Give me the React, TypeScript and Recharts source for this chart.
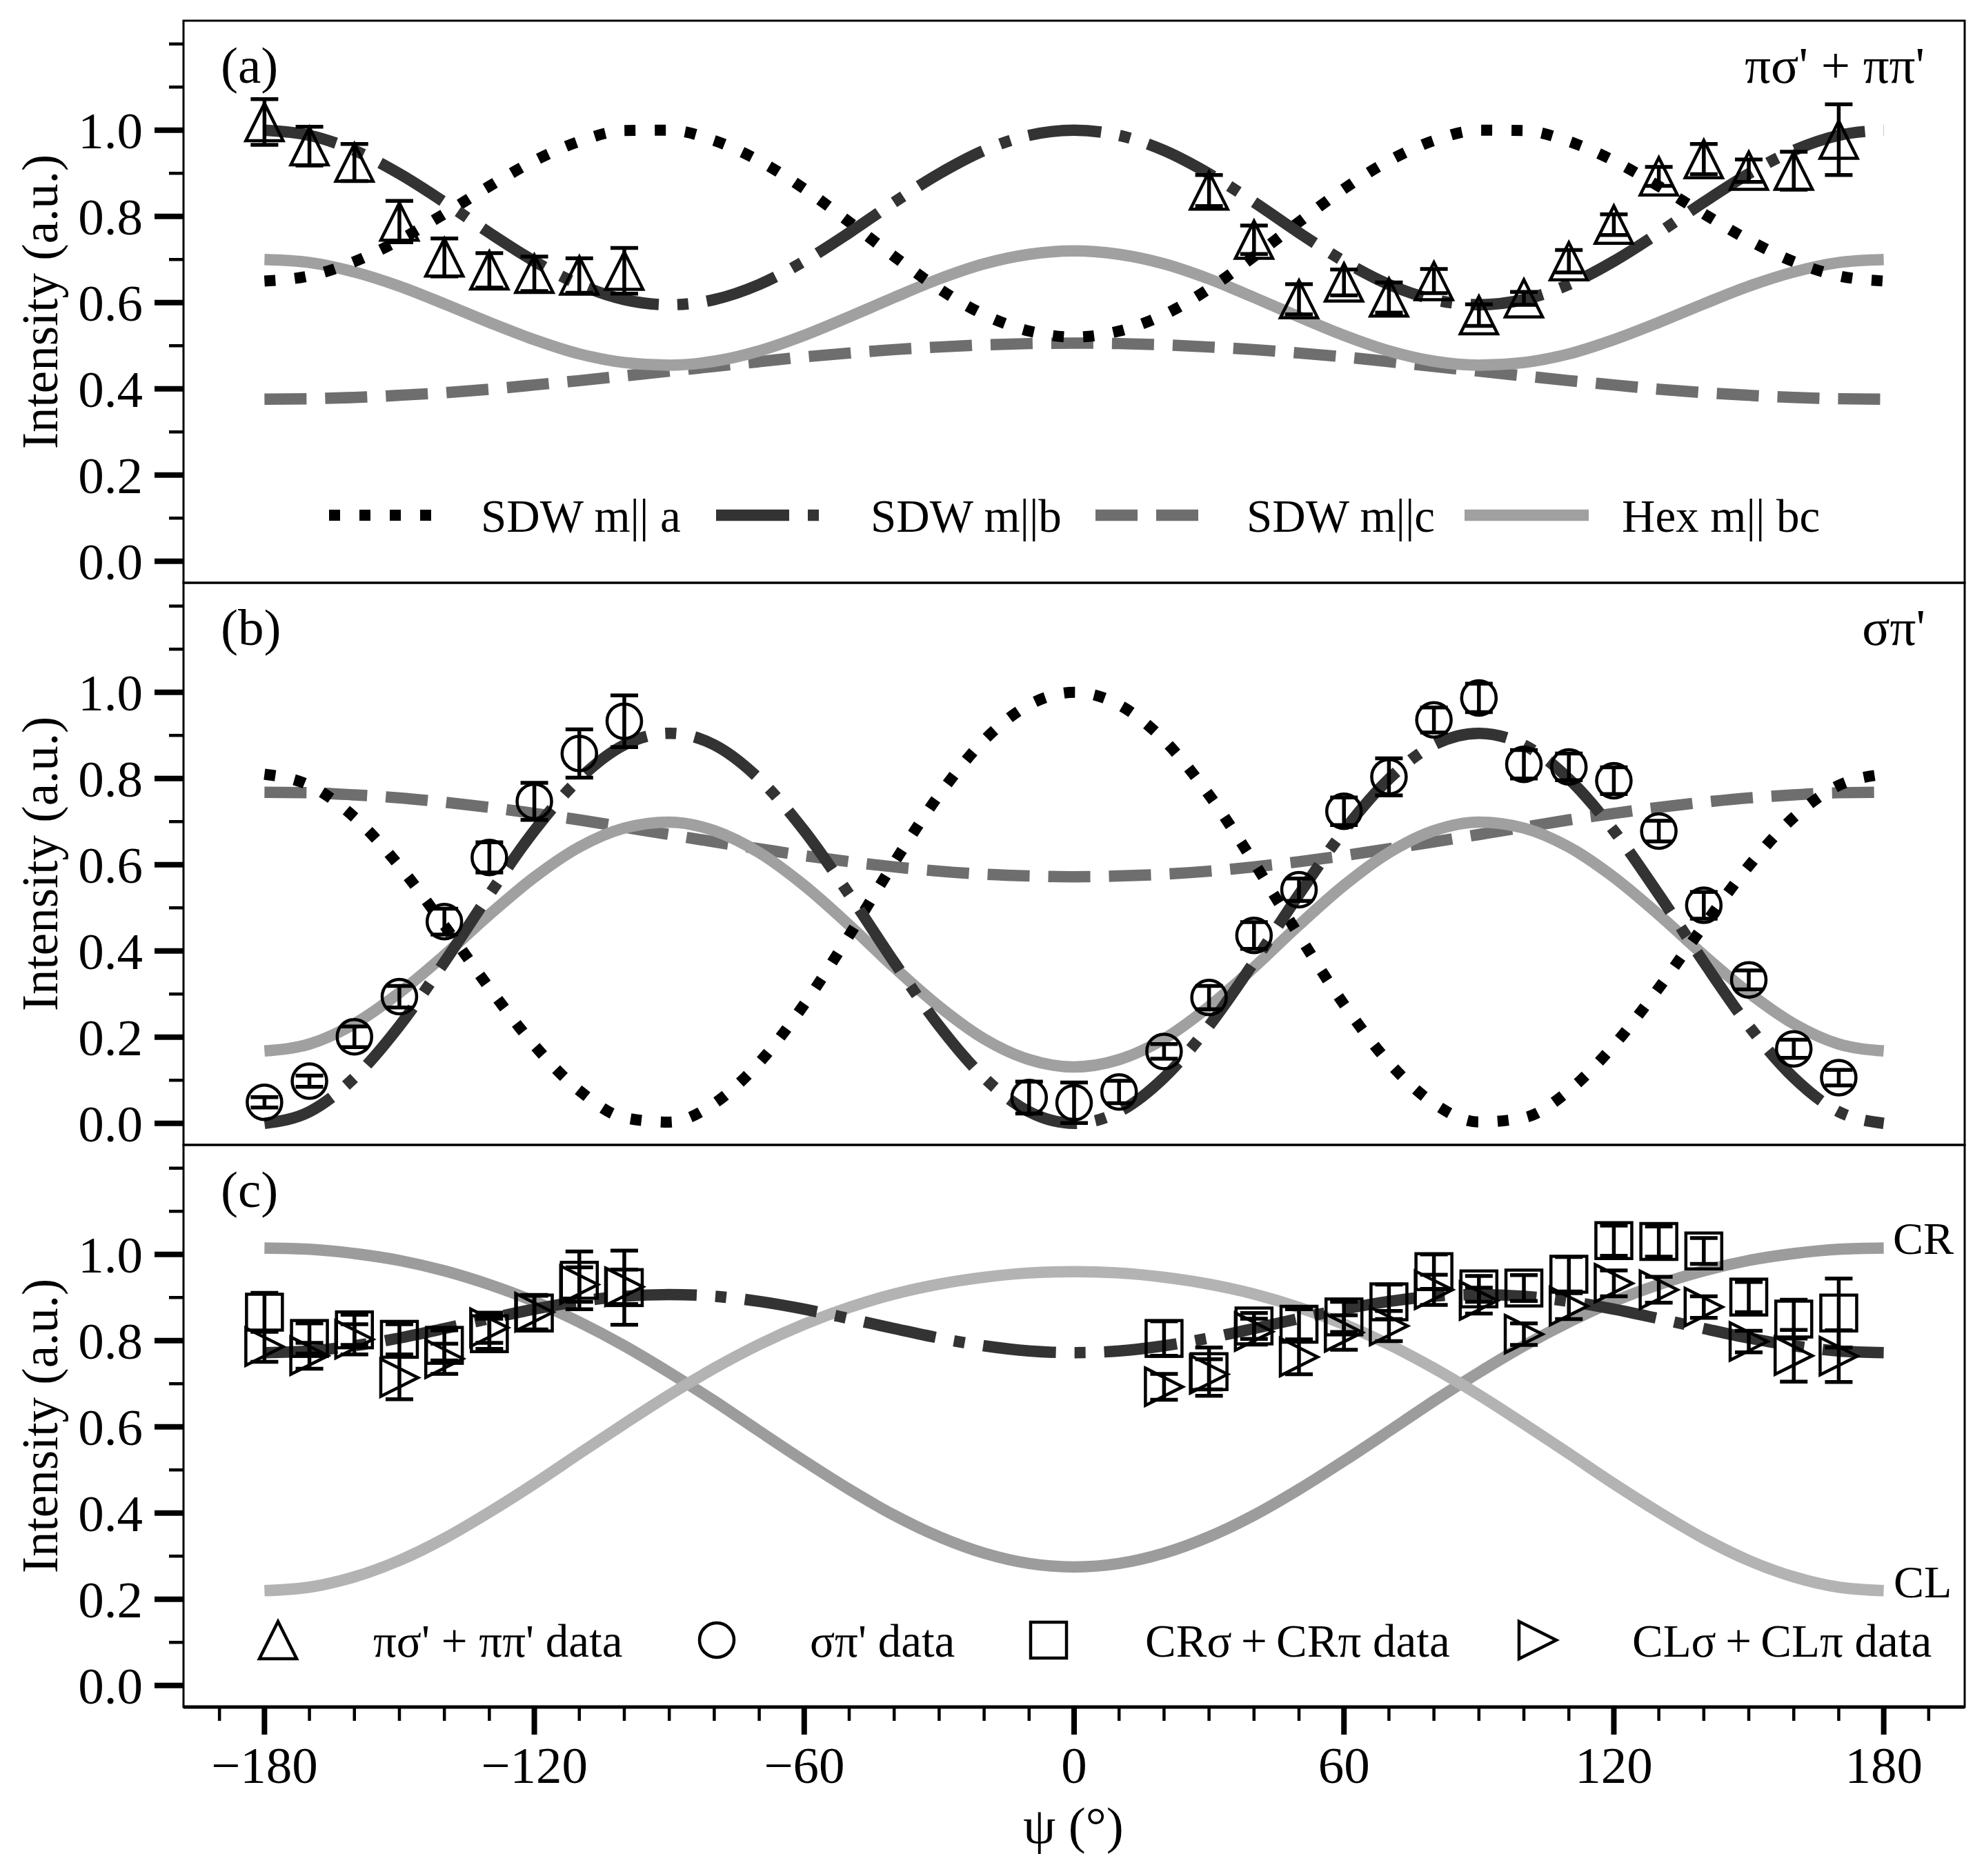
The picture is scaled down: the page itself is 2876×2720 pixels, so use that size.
import React from 'react';
import { ComposedChart, Line, Scatter, XAxis, YAxis, ErrorBar, ReferenceArea } from 'recharts';

const FONT = '"Liberation Serif", "Times New Roman", Times, serif';

// ---------- data ----------
const PSI = [-180,-170,-160,-150,-140,-130,-120,-110,-100,-90,-80,-70,-60,-50,-40,-30,-20,-10,0,10,20,30,40,50,60,70,80,90,100,110,120,130,140,150,160,170,180];

// panel (a) model curves
const A_SDW_A = [0.650,0.662,0.695,0.745,0.806,0.870,0.929,0.974,0.999,1.000,0.976,0.929,0.864,0.787,0.707,0.632,0.572,0.534,0.520,0.534,0.572,0.632,0.707,0.787,0.864,0.929,0.976,1.000,0.999,0.974,0.929,0.870,0.806,0.745,0.695,0.662,0.650];
const A_SDW_B = [1.000,0.988,0.953,0.899,0.833,0.762,0.696,0.642,0.607,0.595,0.607,0.642,0.696,0.762,0.833,0.899,0.953,0.988,1.000,0.988,0.953,0.899,0.833,0.762,0.696,0.642,0.607,0.595,0.607,0.642,0.696,0.762,0.833,0.899,0.953,0.988,1.000];
const A_SDW_C = [0.376,0.377,0.380,0.385,0.391,0.399,0.409,0.419,0.430,0.441,0.452,0.463,0.474,0.483,0.491,0.497,0.502,0.505,0.506,0.505,0.502,0.497,0.491,0.483,0.474,0.463,0.452,0.441,0.430,0.419,0.409,0.399,0.391,0.385,0.380,0.377,0.376];
const A_HEX = [0.700,0.693,0.671,0.638,0.597,0.554,0.514,0.481,0.461,0.455,0.464,0.488,0.524,0.567,0.612,0.655,0.690,0.712,0.720,0.712,0.690,0.655,0.612,0.567,0.524,0.488,0.464,0.455,0.461,0.481,0.514,0.554,0.597,0.638,0.671,0.693,0.700];

// panel (b) model curves
const B_SDW_A = [0.810,0.784,0.710,0.597,0.459,0.314,0.181,0.076,0.013,0.003,0.046,0.141,0.276,0.436,0.605,0.762,0.889,0.971,1.000,0.971,0.889,0.762,0.605,0.436,0.276,0.141,0.046,0.003,0.013,0.076,0.181,0.314,0.459,0.597,0.710,0.784,0.810];
const B_SDW_B = [0.000,0.027,0.106,0.226,0.374,0.531,0.679,0.799,0.878,0.905,0.878,0.799,0.679,0.531,0.374,0.226,0.106,0.027,0.000,0.027,0.106,0.226,0.374,0.531,0.679,0.799,0.878,0.905,0.878,0.799,0.679,0.531,0.374,0.226,0.106,0.027,0.000];
const B_SDW_C = [0.768,0.767,0.762,0.755,0.745,0.733,0.719,0.704,0.687,0.670,0.653,0.637,0.621,0.607,0.595,0.585,0.578,0.574,0.572,0.574,0.578,0.585,0.595,0.607,0.621,0.637,0.653,0.670,0.687,0.704,0.719,0.733,0.745,0.755,0.762,0.767,0.768];
const B_HEX = [0.168,0.184,0.231,0.303,0.390,0.484,0.571,0.641,0.685,0.699,0.679,0.628,0.552,0.460,0.362,0.271,0.196,0.148,0.131,0.148,0.196,0.271,0.362,0.460,0.552,0.628,0.679,0.699,0.685,0.641,0.571,0.484,0.390,0.303,0.231,0.184,0.168];

// panel (c) model curves
const C_SDW_B = [0.772,0.776,0.788,0.806,0.828,0.851,0.873,0.891,0.903,0.907,0.903,0.891,0.873,0.851,0.828,0.806,0.788,0.776,0.772,0.776,0.788,0.806,0.828,0.851,0.873,0.891,0.903,0.907,0.903,0.891,0.873,0.851,0.828,0.806,0.788,0.776,0.772];
const C_CR = [1.015,1.012,1.002,0.986,0.962,0.930,0.891,0.843,0.788,0.726,0.660,0.590,0.521,0.455,0.395,0.345,0.307,0.283,0.275,0.283,0.307,0.345,0.395,0.455,0.521,0.590,0.660,0.726,0.788,0.843,0.891,0.930,0.962,0.986,1.002,1.012,1.015];
const C_CL = [0.220,0.228,0.252,0.290,0.341,0.402,0.468,0.538,0.607,0.674,0.736,0.791,0.838,0.877,0.908,0.931,0.947,0.957,0.960,0.957,0.947,0.931,0.908,0.877,0.838,0.791,0.736,0.674,0.607,0.538,0.468,0.402,0.341,0.290,0.252,0.228,0.220];

// measured data
const A_PTS_PSI = [-180,-170,-160,-150,-140,-130,-120,-110,-100,30,40,50,60,70,80,90,100,110,120,130,140,150,160,170];
const A_PTS_VAL = [1.019,0.963,0.925,0.788,0.705,0.675,0.667,0.663,0.674,0.860,0.746,0.608,0.647,0.612,0.650,0.571,0.610,0.696,0.781,0.893,0.933,0.906,0.906,0.978];
const A_PTS_ERR = [0.053,0.045,0.043,0.048,0.044,0.040,0.040,0.040,0.053,0.036,0.033,0.035,0.030,0.035,0.028,0.025,0.015,0.026,0.024,0.022,0.035,0.026,0.044,0.082];

const B_PTS_PSI = [-180,-170,-160,-150,-140,-130,-120,-110,-100,-10,0,10,20,30,40,50,60,70,80,90,100,110,120,130,140,150,160,170];
const B_PTS_VAL = [0.049,0.098,0.201,0.294,0.468,0.617,0.747,0.858,0.933,0.060,0.048,0.073,0.167,0.292,0.436,0.542,0.724,0.804,0.936,0.987,0.833,0.827,0.795,0.678,0.506,0.333,0.173,0.106];
const B_PTS_ERR = [0.012,0.013,0.024,0.025,0.030,0.035,0.043,0.056,0.060,0.037,0.047,0.026,0.017,0.027,0.031,0.026,0.032,0.043,0.029,0.033,0.033,0.031,0.031,0.024,0.031,0.022,0.021,0.018];

const C_PTS_PSI = [-180,-170,-160,-150,-140,-130,-120,-110,-100,20,30,40,50,60,70,80,90,100,110,120,130,140,150,160,170];
const C_CR_VAL = [0.866,0.805,0.825,0.803,0.789,0.816,0.864,0.940,0.923,0.805,0.728,0.834,0.838,0.855,0.890,0.960,0.920,0.922,0.954,1.032,1.030,1.008,0.901,0.850,0.864];
const C_CR_ERR = [0.045,0.035,0.035,0.035,0.035,0.035,0.040,0.067,0.086,0.040,0.056,0.030,0.035,0.035,0.040,0.040,0.030,0.030,0.040,0.035,0.035,0.030,0.035,0.045,0.080];
const C_CL_VAL = [0.786,0.765,0.803,0.714,0.758,0.830,0.866,0.930,0.925,0.693,0.722,0.821,0.762,0.819,0.834,0.918,0.893,0.815,0.880,0.933,0.918,0.878,0.798,0.765,0.764];
const C_CL_ERR = [0.035,0.030,0.035,0.050,0.035,0.035,0.040,0.040,0.040,0.030,0.035,0.030,0.040,0.040,0.035,0.035,0.030,0.025,0.030,0.030,0.030,0.025,0.025,0.060,0.060];

// ticks
const Y_TICKS = [0, 0.1, 0.2, 0.3, 0.4, 0.5, 0.6, 0.7, 0.8, 0.9, 1.0, 1.1, 1.2];
const Y_LABELED = [0, 0.2, 0.4, 0.6, 0.8, 1.0];
const X_TICKS = [-190,-180,-170,-160,-150,-140,-130,-120,-110,-100,-90,-80,-70,-60,-50,-40,-30,-20,-10,0,10,20,30,40,50,60,70,80,90,100,110,120,130,140,150,160,170,180,190];
const X_LABELED = [-180, -120, -60, 0, 60, 120, 180];

// ---------- helpers ----------
const mkCurve = (vals: number[]) => PSI.map((psi, i) => ({ psi, v: vals[i] }));
const mkPts = (psis: number[], vals: number[], errs: number[]) => psis.map((psi, i) => ({ psi, v: vals[i], e: errs[i] }));

const W = 2876;
const PANEL_H = 815;
const PAD = 40;
const X_DOMAIN: [number, number] = [-198, 198];
const Y_DOMAIN: [number, number] = [-0.05, 1.254];

const DOTTED = { stroke: '#000000', strokeWidth: 16, strokeDasharray: '16 28' };
const DASHDOT = { stroke: '#333333', strokeWidth: 16.5, strokeDasharray: '106 27 16 27' };
const DASHED = { stroke: '#6e6e6e', strokeWidth: 16.5, strokeDasharray: '61 27' };
const HEX = { stroke: '#a0a0a0', strokeWidth: 16.5 };
const CR = { stroke: '#9c9c9c', strokeWidth: 16.5 };
const CL = { stroke: '#b3b3b3', strokeWidth: 16.5 };

const MK = { fill: 'none', stroke: '#000', strokeWidth: 4.5 };
const triUpPath = (cx: number, cy: number) => `M${cx},${cy - 27}L${cx + 27},${cy + 27}L${cx - 27},${cy + 27}Z`;
const triRightPath = (cx: number, cy: number) => `M${cx - 27},${cy - 27}L${cx + 27},${cy}L${cx - 27},${cy + 27}Z`;

const TriUp = (p: any) => (p.cx == null ? <g /> : <path d={triUpPath(p.cx, p.cy)} {...MK} />);
const Circ = (p: any) => (p.cx == null ? <g /> : <circle cx={p.cx} cy={p.cy} r={25} {...MK} />);
const Sq = (p: any) => (p.cx == null ? <g /> : <rect x={p.cx - 26} y={p.cy - 26} width={52} height={52} {...MK} />);
const TriRight = (p: any) => (p.cx == null ? <g /> : <path d={triRightPath(p.cx, p.cy)} {...MK} />);

const YTick = (props: any) => {
  const { x, y, payload } = props;
  const v = payload.value as number;
  const major = Y_LABELED.some((t) => Math.abs(t - v) < 1e-6);
  return (
    <g>
      <line x1={x - (major ? 42 : 21)} x2={x} y1={y} y2={y} stroke="#000" strokeWidth={major ? 8 : 4.5} />
      {major && (
        <text x={x - 59} y={y} dy={26} textAnchor="end" fontFamily={FONT} fontSize={75} fill="#000">
          {v.toFixed(1)}
        </text>
      )}
    </g>
  );
};

const XTick = (props: any) => {
  const { x, y, payload } = props;
  const v = payload.value as number;
  const major = X_LABELED.includes(v);
  return (
    <g>
      <line x1={x} x2={x} y1={y} y2={y + (major ? 40 : 20)} stroke="#000" strokeWidth={major ? 8 : 4.5} />
      {major && (
        <text x={x} y={y + 110} textAnchor="middle" fontFamily={FONT} fontSize={75} fill="#000">
          {v < 0 ? `\u2212${Math.abs(v)}` : `${v}`}
        </text>
      )}
    </g>
  );
};

type LineSpec = { vals: number[]; style: any };
type PtsSpec = { data: any[]; shape: any };

function Panel({ top, withX, lines, pts }: { top: number; withX: boolean; lines: LineSpec[]; pts: PtsSpec[] }) {
  const xh = 200;
  const bottomPad = withX ? 0 : PAD;
  const height = PANEL_H + (withX ? xh : 0) + bottomPad + PAD;
  return (
    <div style={{ position: 'absolute', left: 0, top: top - PAD, width: W, height }}>
      <ComposedChart width={W} height={height} margin={{ top: PAD, right: 28, bottom: bottomPad, left: 0 }}>
        <XAxis
          type="number"
          dataKey="psi"
          domain={X_DOMAIN}
          allowDataOverflow
          hide={!withX}
          height={xh}
          ticks={X_TICKS}
          interval={0}
          tick={(p: any) => <XTick {...p} />}
          tickLine={false}
          tickSize={0}
          tickMargin={0}
          axisLine={{ stroke: '#000', strokeWidth: 5 }}
        />
        <YAxis
          type="number"
          domain={Y_DOMAIN}
          allowDataOverflow
          width={266}
          ticks={Y_TICKS}
          interval={0}
          tick={(p: any) => <YTick {...p} />}
          tickLine={false}
          tickSize={0}
          tickMargin={0}
          axisLine={false}
        />
        {lines.map((l, i) => (
          <Line
            key={`l${i}`}
            data={mkCurve(l.vals)}
            dataKey="v"
            type="monotone"
            dot={false}
            activeDot={false}
            isAnimationActive={false}
            fill="none"
            {...l.style}
          />
        ))}
        {pts.map((s, i) => (
          <Scatter key={`s${i}`} data={s.data} dataKey="v" shape={s.shape} isAnimationActive={false}>
            <ErrorBar dataKey="e" direction="y" width={20} strokeWidth={5.5} stroke="#000" isAnimationActive={false} />
          </Scatter>
        ))}
        <ReferenceArea
          x1={X_DOMAIN[0]}
          x2={X_DOMAIN[1]}
          y1={Y_DOMAIN[0]}
          y2={Y_DOMAIN[1]}
          fill="none"
          fillOpacity={0}
          stroke="#000"
          strokeWidth={3}
          ifOverflow="visible"
        />
      </ComposedChart>
    </div>
  );
}

const TOP_A = 30;
const TOP_B = 845;
const TOP_C = 1660;

function Overlay() {
  const t = (x: number, y: number, s: string, anchor: string = 'start', size: number = 75) => (
    <text x={x} y={y} textAnchor={anchor as any} fontFamily={FONT} fontSize={size} fill="#000">
      {s}
    </text>
  );
  const ylab = (cy: number) => (
    <text x={83} y={cy} transform={`rotate(-90 83 ${cy})`} textAnchor="middle" fontFamily={FONT} fontSize={73} fill="#000">
      Intensity (a.u.)
    </text>
  );
  const LF = 67;
  const LY = 747;
  const LT = 771;
  const CY = 2378;
  const CT = 2402;
  return (
    <svg width={W} height={2720} style={{ position: 'absolute', left: 0, top: 0, pointerEvents: 'none' }}>
      {t(320, TOP_A + 90, '(a)')}
      {t(320, TOP_B + 90, '(b)')}
      {t(320, TOP_C + 90, '(c)')}
      {t(2790, TOP_A + 90, "\u03c0\u03c3' + \u03c0\u03c0'", 'end')}
      {t(2791, TOP_B + 90, "\u03c3\u03c0'", 'end')}
      {t(2744, 1818, 'CR', 'start', 66)}
      {t(2745, 2316, 'CL', 'start', 66)}
      {ylab((TOP_A + TOP_B) / 2)}
      {ylab((TOP_B + TOP_C) / 2)}
      {ylab((TOP_C + 2475) / 2)}
      {t(1556, 2672, '\u03c8 (\u00b0)', 'middle')}

      {/* legend (a) */}
      <line x1={477} x2={625} y1={LY} y2={LY} fill="none" {...DOTTED} />
      {t(697, LT, 'SDW m|| a', 'start', LF)}
      <line x1={1038} x2={1188} y1={LY} y2={LY} fill="none" {...DASHDOT} />
      {t(1262, LT, 'SDW m||b', 'start', LF)}
      <line x1={1588} x2={1737} y1={LY} y2={LY} fill="none" {...DASHED} />
      {t(1807, LT, 'SDW m||c', 'start', LF)}
      <line x1={2123} x2={2303} y1={LY} y2={LY} fill="none" {...HEX} />
      {t(2351, LT, 'Hex m|| bc', 'start', LF)}

      {/* legend (c) */}
      <path d={triUpPath(403, CY)} {...MK} />
      {t(541, CT, "\u03c0\u03c3' + \u03c0\u03c0' data", 'start', LF)}
      <circle cx={1039} cy={CY} r={25} {...MK} />
      {t(1174, CT, "\u03c3\u03c0' data", 'start', LF)}
      <rect x={1520 - 26} y={CY - 26} width={52} height={52} {...MK} />
      {t(1660, CT, 'CR\u03c3\u2009+\u2009CR\u03c0 data', 'start', LF)}
      <path d={triRightPath(2229, CY)} {...MK} />
      {t(2366, CT, 'CL\u03c3\u2009+\u2009CL\u03c0 data', 'start', LF)}
    </svg>
  );
}

export default function App() {
  return (
    <div style={{ position: 'absolute', left: 0, top: 0, width: W, height: 2720, background: '#fff', overflow: 'hidden' }}>
      <Panel
        top={TOP_A}
        withX={false}
        lines={[
          { vals: A_SDW_C, style: DASHED },
          { vals: A_HEX, style: HEX },
          { vals: A_SDW_A, style: DOTTED },
          { vals: A_SDW_B, style: DASHDOT },
        ]}
        pts={[{ data: mkPts(A_PTS_PSI, A_PTS_VAL, A_PTS_ERR), shape: TriUp }]}
      />
      <Panel
        top={TOP_B}
        withX={false}
        lines={[
          { vals: B_SDW_C, style: DASHED },
          { vals: B_HEX, style: HEX },
          { vals: B_SDW_A, style: DOTTED },
          { vals: B_SDW_B, style: DASHDOT },
        ]}
        pts={[{ data: mkPts(B_PTS_PSI, B_PTS_VAL, B_PTS_ERR), shape: Circ }]}
      />
      <Panel
        top={TOP_C}
        withX={true}
        lines={[
          { vals: C_CR, style: CR },
          { vals: C_CL, style: CL },
          { vals: C_SDW_B, style: DASHDOT },
        ]}
        pts={[
          { data: mkPts(C_PTS_PSI, C_CR_VAL, C_CR_ERR), shape: Sq },
          { data: mkPts(C_PTS_PSI, C_CL_VAL, C_CL_ERR), shape: TriRight },
        ]}
      />
      <Overlay />
    </div>
  );
}
